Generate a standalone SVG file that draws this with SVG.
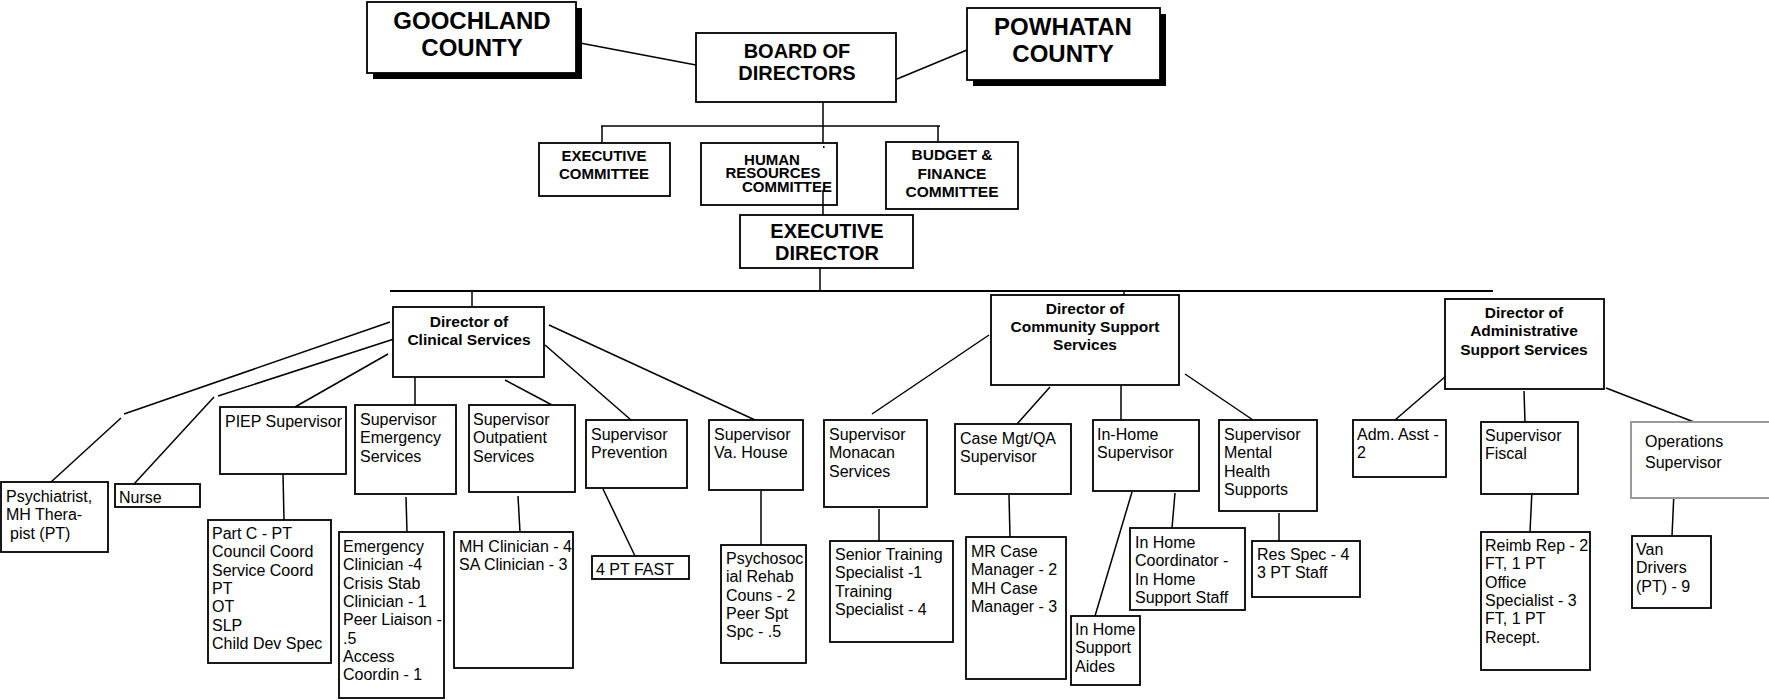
<svg xmlns="http://www.w3.org/2000/svg" width="1769" height="700" viewBox="0 0 1769 700">
<style>
.b{fill:#fff;stroke:#000;stroke-width:1.8}
.s{fill:#000}
.t{font-family:"Liberation Sans",Arial,sans-serif;font-size:16px;fill:#000}
.h{font-family:"Liberation Sans",Arial,sans-serif;font-weight:bold;text-anchor:middle;fill:#000}
.c line{stroke:#000;stroke-width:1.5;fill:none}
</style>
<rect width="1769" height="700" fill="#fff"/>
<g class="c" id="connectors">
<line x1="580" y1="43" x2="696" y2="65"/>
<line x1="897" y1="79" x2="967" y2="50"/>
<line x1="823" y1="102" x2="823" y2="143"/>
<line x1="601" y1="126" x2="940" y2="126"/>
<line x1="602" y1="126" x2="602" y2="143"/>
<line x1="938" y1="126" x2="938" y2="142"/>
<line x1="820" y1="268" x2="820" y2="291"/>
<line x1="390" y1="291" x2="1493" y2="291" style="stroke-width:2"/>
<line x1="472" y1="291" x2="472" y2="307"/>
<line x1="1124" y1="291" x2="1124" y2="295"/>
<line x1="390" y1="322" x2="124" y2="414"/>
<line x1="121" y1="418" x2="51" y2="482"/>
<line x1="394" y1="339" x2="218" y2="396"/>
<line x1="214" y1="397" x2="134" y2="484"/>
<line x1="388" y1="354" x2="295" y2="407"/>
<line x1="415" y1="378" x2="415" y2="405"/>
<line x1="505" y1="380" x2="552" y2="405"/>
<line x1="545" y1="345" x2="631" y2="420"/>
<line x1="549" y1="325" x2="755" y2="420"/>
<line x1="283" y1="474" x2="284" y2="520"/>
<line x1="406" y1="497" x2="407" y2="532"/>
<line x1="518" y1="496" x2="520" y2="532"/>
<line x1="603" y1="489" x2="635" y2="556"/>
<line x1="761" y1="491" x2="761" y2="545"/>
<line x1="989" y1="335" x2="872" y2="414"/>
<line x1="1050" y1="387" x2="1017" y2="424"/>
<line x1="1121" y1="386" x2="1121" y2="420"/>
<line x1="1185" y1="374" x2="1253" y2="420"/>
<line x1="879" y1="509" x2="879" y2="541"/>
<line x1="1009" y1="495" x2="1010" y2="537"/>
<line x1="1132" y1="492" x2="1095" y2="616"/>
<line x1="1175" y1="493" x2="1172" y2="528"/>
<line x1="1279" y1="513" x2="1279" y2="541"/>
<line x1="1446" y1="376" x2="1395" y2="420"/>
<line x1="1524" y1="391" x2="1525" y2="422"/>
<line x1="1606" y1="388" x2="1694" y2="422"/>
<line x1="1532" y1="490" x2="1530" y2="532"/>
<line x1="1674" y1="492" x2="1672" y2="536"/>
</g>
<g id="goochland">
<rect class="s" x="373" y="8" width="209" height="71"/>
<rect class="b" x="367" y="2" width="209" height="71"/>
<text class="h" font-size="24" x="472" y="29">GOOCHLAND</text>
<text class="h" font-size="24" x="472" y="56">COUNTY</text>
</g>
<g id="powhatan">
<rect class="s" x="973" y="14" width="193" height="72"/>
<rect class="b" x="967" y="8" width="193" height="72"/>
<text class="h" font-size="24" x="1063" y="35">POWHATAN</text>
<text class="h" font-size="24" x="1063" y="62">COUNTY</text>
</g>
<g id="board">
<rect class="b" x="696" y="33" width="200" height="69"/>
<text class="h" font-size="20" x="797" y="58">BOARD OF</text>
<text class="h" font-size="20" x="797" y="80">DIRECTORS</text>
</g>
<g id="exec-committee">
<rect class="b" x="539" y="143" width="131" height="53"/>
<text class="h" font-size="15" x="604" y="161">EXECUTIVE</text>
<text class="h" font-size="15" x="604" y="179">COMMITTEE</text>
</g>
<g id="hr-committee">
<rect class="b" x="701" y="143" width="136" height="62"/>
<text class="h" font-size="15" x="772" y="165">HUMAN</text>
<text class="h" font-size="15" x="773" y="178">RESOURCES</text>
<text class="h" font-size="15" x="787" y="192">COMMITTEE</text>
<line x1="823" y1="190" x2="823" y2="215" stroke="#000" stroke-width="1.5"/>
<rect x="823" y="146" width="1.5" height="2" fill="#000"/>
</g>
<g id="budget-committee">
<rect class="b" x="886" y="142" width="132" height="67"/>
<text class="h" font-size="15.5" x="952" y="160">BUDGET &amp;</text>
<text class="h" font-size="15.5" x="952" y="178.5">FINANCE</text>
<text class="h" font-size="15.5" x="952" y="197">COMMITTEE</text>
</g>
<g id="exec-director">
<rect class="b" x="740" y="215" width="173" height="53"/>
<text class="h" font-size="20" x="827" y="238">EXECUTIVE</text>
<text class="h" font-size="20" x="827" y="260">DIRECTOR</text>
</g>
<g id="dir-clinical">
<rect class="b" x="393" y="307" width="151" height="70"/>
<text class="h" font-size="15.5" x="469" y="327">Director of</text>
<text class="h" font-size="15.5" x="469" y="345">Clinical Services</text>
</g>
<g id="dir-community">
<rect class="b" x="991" y="295" width="188" height="90"/>
<text class="h" font-size="15.5" x="1085" y="314">Director of</text>
<text class="h" font-size="15.5" x="1085" y="332">Community Support</text>
<text class="h" font-size="15.5" x="1085" y="350">Services</text>
</g>
<g id="dir-admin">
<rect class="b" x="1445" y="299" width="159" height="90"/>
<text class="h" font-size="15.5" x="1524" y="318">Director of</text>
<text class="h" font-size="15.5" x="1524" y="336">Administrative</text>
<text class="h" font-size="15.5" x="1524" y="355">Support Services</text>
</g>
<g id="psychiatrist">
<rect class="b" x="1" y="482" width="107" height="70"/>
<text class="t" x="6" y="502">Psychiatrist,<tspan x="6" dy="18.3">MH Thera-</tspan><tspan x="10" dy="18.3">pist (PT)</tspan></text>
</g>
<g id="nurse">
<rect class="b" x="115" y="484" width="85" height="23"/>
<text class="t" x="119" y="503">Nurse</text>
</g>
<g id="piep">
<rect class="b" x="220" y="407" width="126" height="67"/>
<text class="t" x="225" y="427">PIEP Supervisor</text>
</g>
<g id="partc">
<rect class="b" x="208" y="520" width="123" height="143"/>
<text class="t" x="212" y="539">Part C - PT<tspan x="212" dy="18.3">Council Coord</tspan><tspan x="212" dy="18.3">Service Coord</tspan><tspan x="212" dy="18.3">PT</tspan><tspan x="212" dy="18.3">OT</tspan><tspan x="212" dy="18.3">SLP</tspan><tspan x="212" dy="18.3">Child Dev Spec</tspan></text>
</g>
<g id="sup-emergency">
<rect class="b" x="355" y="405" width="101" height="89"/>
<text class="t" x="360" y="425">Supervisor<tspan x="360" dy="18.3">Emergency</tspan><tspan x="360" dy="18.3">Services</tspan></text>
</g>
<g id="emergency-staff">
<rect class="b" x="339" y="532" width="105" height="166"/>
<text class="t" x="343" y="552">Emergency<tspan x="343" dy="18.3">Clinician -4</tspan><tspan x="343" dy="18.3">Crisis Stab</tspan><tspan x="343" dy="18.3">Clinician - 1</tspan><tspan x="343" dy="18.3">Peer Liaison -</tspan><tspan x="343" dy="18.3">.5</tspan><tspan x="343" dy="18.3">Access</tspan><tspan x="343" dy="18.3">Coordin - 1</tspan></text>
</g>
<g id="sup-outpatient">
<rect class="b" x="469" y="405" width="106" height="87"/>
<text class="t" x="473" y="425">Supervisor<tspan x="473" dy="18.3">Outpatient</tspan><tspan x="473" dy="18.3">Services</tspan></text>
</g>
<g id="outpatient-staff">
<rect class="b" x="454" y="532" width="119" height="136"/>
<text class="t" x="459" y="552">MH Clinician - 4<tspan x="459" dy="18.3">SA Clinician - 3</tspan></text>
</g>
<g id="sup-prevention">
<rect class="b" x="586" y="420" width="101" height="68"/>
<text class="t" x="591" y="440">Supervisor<tspan x="591" dy="18.3">Prevention</tspan></text>
</g>
<g id="fast">
<rect class="b" x="592" y="556" width="97" height="23"/>
<text class="t" x="596" y="575">4 PT FAST</text>
</g>
<g id="sup-vahouse">
<rect class="b" x="709" y="420" width="94" height="70"/>
<text class="t" x="714" y="440">Supervisor<tspan x="714" dy="18.3">Va. House</tspan></text>
</g>
<g id="psychosocial">
<rect class="b" x="721" y="545" width="85" height="118"/>
<text class="t" x="726" y="564">Psychosoc<tspan x="726" dy="18.3">ial Rehab</tspan><tspan x="726" dy="18.3">Couns - 2</tspan><tspan x="726" dy="18.3">Peer Spt</tspan><tspan x="726" dy="18.3">Spc - .5</tspan></text>
</g>
<g id="sup-monacan">
<rect class="b" x="824" y="420" width="103" height="87"/>
<text class="t" x="829" y="440">Supervisor<tspan x="829" dy="18.3">Monacan</tspan><tspan x="829" dy="18.3">Services</tspan></text>
</g>
<g id="training">
<rect class="b" x="830" y="541" width="123" height="101"/>
<text class="t" x="835" y="560">Senior Training<tspan x="835" dy="18.3">Specialist -1</tspan><tspan x="835" dy="18.3">Training</tspan><tspan x="835" dy="18.3">Specialist - 4</tspan></text>
</g>
<g id="sup-casemgt">
<rect class="b" x="955" y="424" width="116" height="70"/>
<text class="t" x="960" y="444">Case Mgt/QA<tspan x="960" dy="18.3">Supervisor</tspan></text>
</g>
<g id="case-managers">
<rect class="b" x="966" y="537" width="100" height="142"/>
<text class="t" x="971" y="557">MR Case<tspan x="971" dy="18.3">Manager - 2</tspan><tspan x="971" dy="18.3">MH Case</tspan><tspan x="971" dy="18.3">Manager - 3</tspan></text>
</g>
<g id="sup-inhome">
<rect class="b" x="1093" y="420" width="106" height="71"/>
<text class="t" x="1097" y="440">In-Home<tspan x="1097" dy="18.3">Supervisor</tspan></text>
</g>
<g id="inhome-aides">
<rect class="b" x="1071" y="616" width="69" height="69"/>
<text class="t" x="1075" y="635">In Home<tspan x="1075" dy="18.3">Support</tspan><tspan x="1075" dy="18.3">Aides</tspan></text>
</g>
<g id="inhome-coord">
<rect class="b" x="1130" y="528" width="115" height="82"/>
<text class="t" x="1135" y="548">In Home<tspan x="1135" dy="18.3">Coordinator -</tspan><tspan x="1135" dy="18.3">In Home</tspan><tspan x="1135" dy="18.3">Support Staff</tspan></text>
</g>
<g id="sup-mh">
<rect class="b" x="1219" y="420" width="98" height="91"/>
<text class="t" x="1224" y="440">Supervisor<tspan x="1224" dy="18.3">Mental</tspan><tspan x="1224" dy="18.3">Health</tspan><tspan x="1224" dy="18.3">Supports</tspan></text>
</g>
<g id="res-spec">
<rect class="b" x="1252" y="541" width="108" height="56"/>
<text class="t" x="1257" y="560">Res Spec - 4<tspan x="1257" dy="18.3">3 PT Staff</tspan></text>
</g>
<g id="adm-asst">
<rect class="b" x="1353" y="420" width="93" height="57"/>
<text class="t" x="1357" y="440">Adm. Asst -<tspan x="1357" dy="18.3">2</tspan></text>
</g>
<g id="sup-fiscal">
<rect class="b" x="1481" y="422" width="97" height="72"/>
<text class="t" x="1485" y="441">Supervisor<tspan x="1485" dy="18.3">Fiscal</tspan></text>
</g>
<g id="fiscal-staff">
<rect class="b" x="1481" y="532" width="109" height="138"/>
<text class="t" x="1485" y="551">Reimb Rep - 2<tspan x="1485" dy="18.3">FT, 1 PT</tspan><tspan x="1485" dy="18.3">Office</tspan><tspan x="1485" dy="18.3">Specialist - 3</tspan><tspan x="1485" dy="18.3">FT, 1 PT</tspan><tspan x="1485" dy="18.3">Recept.</tspan></text>
</g>
<g id="ops-sup">
<rect x="1631" y="422" width="150" height="76" fill="#fff" stroke="#999" stroke-width="2"/>
<text class="t" font-size="18" x="1645" y="447">Operations<tspan x="1645" dy="21">Supervisor</tspan></text>
</g>
<g id="van-drivers">
<rect class="b" x="1632" y="536" width="79" height="72"/>
<text class="t" x="1636" y="555">Van<tspan x="1636" dy="18.3">Drivers</tspan><tspan x="1636" dy="18.3">(PT) - 9</tspan></text>
</g>
</svg>
